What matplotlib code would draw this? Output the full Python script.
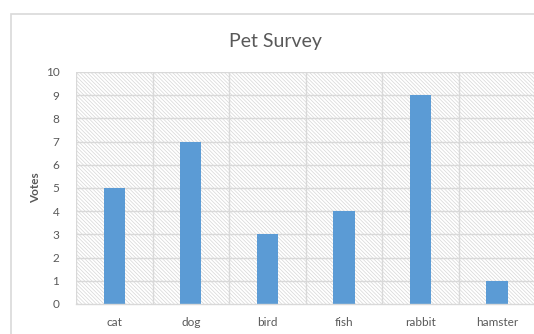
import numpy as np
import matplotlib.pyplot as plt
from matplotlib.patches import Rectangle

pets = ['cat', 'dog', 'bird', 'fish', 'rabbit', 'hamster']
votes = [5, 7, 3, 4, 9, 1]
yticks = list(range(0, 11))

plt.rcParams['font.family'] = ['Lato', 'DejaVu Sans']
plt.rcParams['hatch.linewidth'] = 0.5

fig = plt.figure(figsize=(5.34, 3.34), dpi=100)
# chart area border (cropped at right and bottom)
fig.patches.append(Rectangle((11/534, -0.1), 1.2, 1 - 14/334 + 0.1, transform=fig.transFigure,
                             facecolor='none', edgecolor='#d9d9d9', linewidth=1.2, zorder=0))

ax = fig.add_axes([76/534, 1 - 304/334, 1 - 76/534 + 0.002, (304 - 72)/334])
ax.set_zorder(2)
ax.set_facecolor('none')
ax.add_patch(Rectangle((0, 0), 1, 1, transform=ax.transAxes, facecolor='white',
                       edgecolor='#d6d6d6', hatch='\\' * 9, linewidth=0, zorder=0))

x = np.arange(len(pets))
ax.bar(x, votes, width=0.28, color='#5b9bd5', zorder=3)

ax.set_xlim(-0.5, len(pets) - 0.5)
ax.set_ylim(0, 10)
ax.set_yticks(yticks)
ax.set_xticks(x)
ax.set_xticklabels(pets)
for v in yticks[1:]:
    ax.axhline(v, color='#d9d9d9', linewidth=1, zorder=1)
for b in np.arange(0.5, len(pets) - 0.5, 1.0):
    ax.axvline(b, color='#d9d9d9', linewidth=1, zorder=1)
ax.axvline(-0.5, color='#d9d9d9', linewidth=1, zorder=1)

for s in ['top', 'right', 'left']:
    ax.spines[s].set_visible(False)
ax.spines['bottom'].set_color('#d9d9d9')
ax.spines['bottom'].set_linewidth(1)
ax.spines['bottom'].set_zorder(4)
ax.tick_params(axis='both', length=0, colors='#595959', labelsize=8.5)
ax.tick_params(axis='y', pad=12)
ax.tick_params(axis='x', pad=9)

ax.set_ylabel('Votes', fontsize=8.5, fontweight='bold', color='#595959', labelpad=3)
fig.text(275/534, 1 - 41/334, 'Pet Survey', ha='center', va='center',
         fontsize=14, color='#595959')

fig.savefig('out.png', dpi=100)
